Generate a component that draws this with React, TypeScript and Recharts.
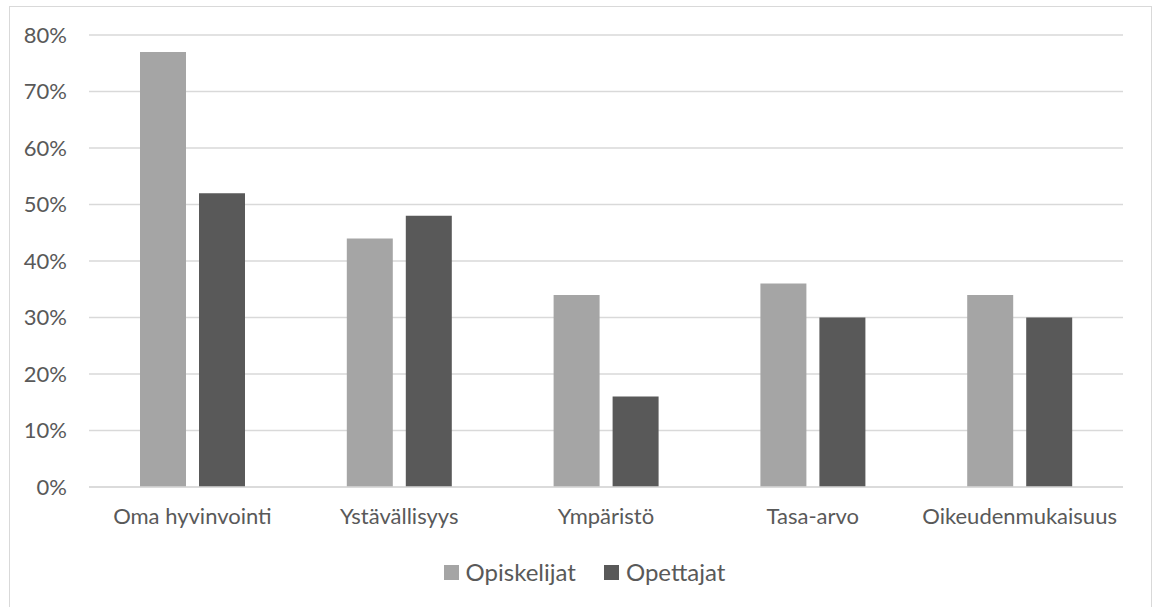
import { BarChart, Bar, XAxis, YAxis, CartesianGrid, Legend } from 'recharts';

const categories = ['Oma hyvinvointi', 'Ystävällisyys', 'Ympäristö', 'Tasa-arvo', 'Oikeudenmukaisuus'];
const opiskelijat = [77, 44, 34, 36, 34];
const opettajat = [52, 48, 16, 30, 30];
const yTicks = [0, 10, 20, 30, 40, 50, 60, 70, 80];

const SERIES = [
  { key: 'opiskelijat', name: 'Opiskelijat', color: '#a5a5a5' },
  { key: 'opettajat', name: 'Opettajat', color: '#595959' },
];

const data = categories.map((category, i) => ({
  category,
  opiskelijat: opiskelijat[i],
  opettajat: opettajat[i],
}));

const FONT = 'Lato, "Noto Sans", sans-serif';
const TEXT = '#595959';

function LegendContent() {
  return (
    <div
      style={{
        display: 'flex',
        justifyContent: 'center',
        alignItems: 'center',
        height: 30,
        gap: 28,
        paddingLeft: 36,
      }}
    >
      {SERIES.map((s) => (
        <div key={s.key} style={{ display: 'flex', alignItems: 'center', gap: 7 }}>
          <span style={{ width: 15, height: 15, background: s.color, display: 'inline-block' }} />
          <span style={{ fontFamily: FONT, fontSize: 24, color: TEXT, lineHeight: '30px' }}>{s.name}</span>
        </div>
      ))}
    </div>
  );
}

export default function App() {
  return (
    <div style={{ position: 'relative', width: 1154, height: 607, background: '#fff', overflow: 'hidden' }}>
      <style>{'body{margin:0}'}</style>
      <div
        style={{
          position: 'absolute',
          left: 9,
          top: 6,
          width: 1141,
          height: 620,
          border: '1px solid #d9d9d9',
        }}
      >
        <BarChart
          width={1141}
          height={600}
          data={data}
          margin={{ top: 28, right: 28, bottom: 20, left: 0 }}
          barSize={46}
          barGap={13}
        >
          <CartesianGrid vertical={false} stroke="#d9d9d9" strokeWidth={1.5} />
          <XAxis
            dataKey="category"
            height={70}
            axisLine={{ stroke: '#d9d9d9', strokeWidth: 1.5 }}
            tickLine={false}
            tickSize={0}
            tickMargin={21}
            tick={{ fontSize: 22, fill: TEXT, fontFamily: FONT }}
            interval={0}
          />
          <YAxis
            width={79}
            domain={[0, 80]}
            ticks={yTicks}
            tickFormatter={(v: number) => `${v}%`}
            axisLine={false}
            tickLine={false}
            tickSize={0}
            tickMargin={22}
            tick={{ fontSize: 22, fill: TEXT, fontFamily: FONT }}
          />
          <Legend height={30} content={<LegendContent />} />
          {SERIES.map((s) => (
            <Bar key={s.key} dataKey={s.key} name={s.name} fill={s.color} isAnimationActive={false} />
          ))}
        </BarChart>
      </div>
    </div>
  );
}
